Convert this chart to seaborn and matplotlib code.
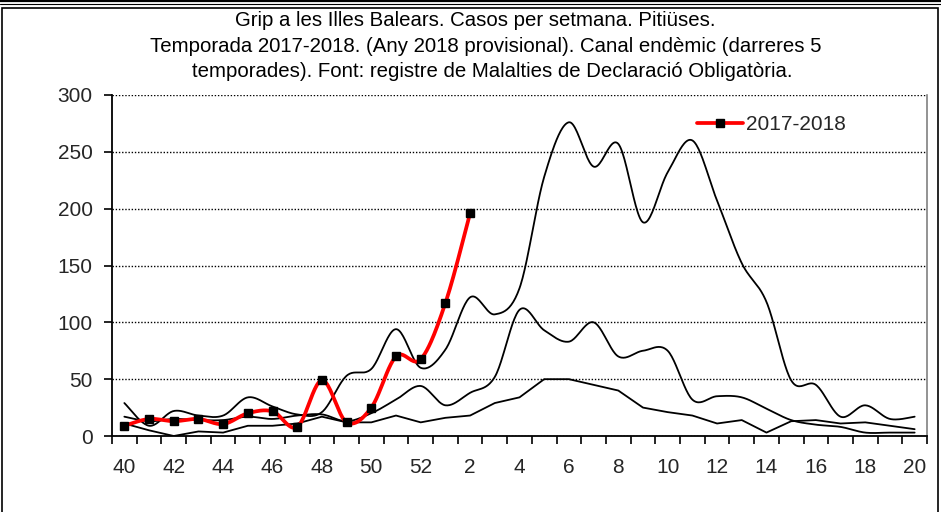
import numpy as np
import pandas as pd
import matplotlib
matplotlib.use("Agg")
import matplotlib.pyplot as plt
import seaborn as sns
from matplotlib.lines import Line2D
from matplotlib.patches import Rectangle

# ---------------- data ----------------
weeks = list(range(40, 53)) + list(range(1, 21))
tick_labels = [str(w) if i % 2 == 0 else "" for i, w in enumerate(weeks)]

upper = [29, 9, 22, 18, 18, 34, 26, 19, 21, 53, 59, 94, 60, 76, 122, 107, 130,
         228, 276, 237, 257, 188, 232, 260, 207, 152, 118, 49, 45, 17, 27, 15, 17]
middle = [17, 13, 15, 14, 14, 17, 15, 18, 19, 13, 20, 32, 44, 27, 38, 52, 111,
          93, 83, 100, 70, 75, 75, 32, 35, 34, 24, 14, 10, 8, 3, 3, 3]
lower = [11, 5, 0, 4, 3, 9, 9, 11, 17, 12, 12, 18, 12, 16, 18, 29, 34,
         50, 50, 45, 40, 25, 21, 18, 11, 14, 3, 13, 14, 11, 12, 9, 6]
season_label = "2017-2018"
season = [9, 15, 13, 15, 10.5, 20, 21.7, 8, 49, 12, 25, 70, 67.5, 117, 196]

title_lines = [
    "Grip a les Illes Balears. Casos per setmana. Pitiüses.",
    "Temporada 2017-2018. (Any 2018 provisional). Canal endèmic (darreres 5",
    "temporades). Font: registre de Malalties de Declaració Obligatòria.",
]


def smooth(values, n=24):
    """Excel-like smoothed line (Bezier through every point)."""
    p = np.column_stack([np.arange(len(values)), np.asarray(values, float)])
    ext = np.vstack([p[0], p, p[-1]])
    t = np.linspace(0, 1, n, endpoint=False)[:, None]
    segs = []
    for i in range(len(p) - 1):
        p0, p1, p2, p3 = ext[i], ext[i + 1], ext[i + 2], ext[i + 3]
        c1 = p1 + (p2 - p0) / 6
        c2 = p2 - (p3 - p1) / 6
        segs.append((1 - t) ** 3 * p1 + 3 * (1 - t) ** 2 * t * c1
                    + 3 * (1 - t) * t ** 2 * c2 + t ** 3 * p2)
    segs.append(p[-1][None])
    s = np.vstack(segs)
    return s[:, 0], s[:, 1]


sns.set_theme(style="white")
plt.rcParams["font.family"] = ["Liberation Sans", "DejaVu Sans"]

fig = plt.figure(figsize=(9.41, 5.12), dpi=100)
ax = fig.add_axes([112 / 941, 76 / 512, 815 / 941, 341 / 512])

idx = np.arange(len(weeks))

for series in (upper, middle):
    sx, sy = smooth(series)
    sns.lineplot(x=sx, y=sy, sort=False, estimator=None, color="black",
                 linewidth=1.3, ax=ax)
sns.lineplot(x=idx, y=lower, sort=False, estimator=None, color="black",
             linewidth=1.3, ax=ax)

sx, sy = smooth(season)
sns.lineplot(x=sx, y=sy, sort=False, estimator=None, color="#ff0000",
             linewidth=2.7, ax=ax, zorder=5)
ax.plot(idx[:len(season)], season, ls="none", marker="s", ms=6.2,
        color="black", zorder=6)

ax.set_xlim(-0.5, len(weeks) - 0.5)
ax.set_ylim(0, 300)
ax.set_yticks(np.arange(0, 301, 50))
ax.set_xticks(np.arange(-0.5, len(weeks), 1))
ax.set_xticklabels([])
ax.set_xticks(idx, minor=True)
ax.set_xticklabels(tick_labels, minor=True)
ax.tick_params(axis="x", which="major", length=6, width=1.2, color="black",
               direction="out", bottom=True)
ax.tick_params(axis="x", which="minor", length=0, pad=16, labelsize=15)
ax.tick_params(axis="y", length=6, width=1.2, color="black", direction="out",
               left=True, pad=8, labelsize=15)

ax.yaxis.grid(True, color="black", linestyle=(0, (1, 1.3)), linewidth=1.0)
ax.xaxis.grid(False)
ax.set_axisbelow(True)
for s in ("left", "bottom"):
    ax.spines[s].set_color("black")
    ax.spines[s].set_linewidth(1.3)
ax.spines["top"].set_visible(False)
ax.spines["right"].set_color("#808080")
ax.spines["right"].set_linewidth(1.2)
ax.set_xlabel("")
ax.set_ylabel("")

handle = Line2D([], [], color="#ff0000", lw=2.7, marker="s", ms=6.2,
                mfc="black", mec="black")
ax.legend([handle], [season_label], loc="center left",
          bbox_to_anchor=(697 / 941, 1 - 125 / 512),
          bbox_transform=fig.transFigure, frameon=False, fontsize=15,
          handlelength=2.2, handletextpad=0.15, borderpad=0, borderaxespad=0)

for xpx, ypx, line in zip((475, 486, 492), (21, 46, 71.5), title_lines):
    fig.text(xpx / 941, 1 - ypx / 512, line, ha="center", va="center",
             fontsize=14.7, color="black")

# chart frame
fig.add_artist(Line2D([0, 1], [1 - 1 / 512] * 2, transform=fig.transFigure,
                      color="black", lw=1.6))
fig.add_artist(Line2D([0, 1], [1 - 4 / 512] * 2, transform=fig.transFigure,
                      color="black", lw=0.8))
fig.add_artist(Rectangle((2 / 941, -0.05), 936 / 941, 1.05 - 8 / 512,
                         transform=fig.transFigure, fill=False,
                         edgecolor="black", lw=1.2))

fig.savefig("out.png", dpi=100)
